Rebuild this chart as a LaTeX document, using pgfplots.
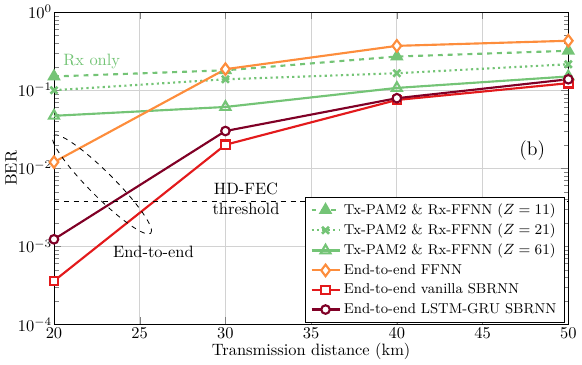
\documentclass[border=0pt]{standalone}
\usepackage{pgfplots}
\pgfplotsset{compat=1.18}
\definecolor{cgreen}{RGB}{116,196,118}
\definecolor{corange}{RGB}{253,141,60}
\definecolor{cred}{RGB}{227,26,28}
\definecolor{cdark}{RGB}{128,0,38}
\begin{document}
\begin{tikzpicture}
\begin{axis}[
  scale only axis,
  width=313pt, height=190pt,
  ymode=log,
  xmin=20, xmax=50, ymin=1e-4, ymax=1,
  xtick={20,25,30,35,40,45,50},
  ytick={1e-4,1e-3,1e-2,1e-1,1},
  grid=major,
  major grid style={gray!35, line width=0.5pt},
  yticklabel style={inner xsep=1pt},
  xticklabel style={inner ysep=2pt},
  xlabel={Transmission distance (km)},
  ylabel={BER},
  xlabel style={yshift=3pt},
  ylabel style={yshift=-4pt},
  legend cell align=left,
  legend style={at={(1,0)}, xshift=-2pt, yshift=1pt, anchor=south east, draw=black, fill=white, font=\fontsize{8.7}{10.4}\selectfont, row sep=0.3pt},
  every axis plot/.append style={line width=1.3pt},
  clip=false,
]
\addplot[cgreen, dashed, mark=triangle*, mark size=3.5pt, mark options={solid}] coordinates {(20,0.15) (30,0.18) (40,0.27) (50,0.32)};
\addlegendentry{Tx-PAM2 \& Rx-FFNN ($Z=11$)}
\addplot[cgreen, dotted, mark=x, mark size=3pt, mark options={solid, line width=1.6pt}] coordinates {(20,0.10) (30,0.138) (40,0.165) (50,0.215)};
\addlegendentry{Tx-PAM2 \& Rx-FFNN ($Z=21$)}
\addplot[cgreen, mark=triangle, mark size=3.5pt, mark options={solid, fill=white}] coordinates {(20,0.047) (30,0.061) (40,0.107) (50,0.15)};
\addlegendentry{Tx-PAM2 \& Rx-FFNN ($Z=61$)}
\addplot[corange, mark=diamond*, mark size=3.5pt, mark options={fill=white}] coordinates {(20,0.012) (30,0.186) (40,0.37) (50,0.43)};
\addlegendentry{End-to-end FFNN}
\addplot[cred, mark=square*, mark size=2.6pt, mark options={fill=white}] coordinates {(20,3.6e-4) (30,0.020) (40,0.075) (50,0.123)};
\addlegendentry{End-to-end vanilla SBRNN}
\addplot[cdark, mark=*, mark size=2.6pt, mark options={fill=white}] coordinates {(20,1.23e-3) (30,0.030) (40,0.079) (50,0.138)};
\addlegendentry{End-to-end LSTM-GRU SBRNN}
\addplot[black, dashed, line width=0.5pt, forget plot] coordinates {(20,3.8e-3) (50,3.8e-3)};
\node[above] at (axis cs:31.2,3.8e-3) {HD-FEC};
\node[below, yshift=2pt] at (axis cs:31.2,3.8e-3) {threshold};
\node[cgreen] at (axis cs:22.2,0.23) {Rx only};
\node at (axis cs:47.9,0.017) {\large (b)};
\node at (axis cs:25.8,8.5e-4) {End-to-end};
\draw[black, dashed, line width=0.5pt] (axis cs:22.8,6.2e-3) ellipse[x radius=42pt, y radius=7.5pt, rotate=-45];
\end{axis}
\end{tikzpicture}
\end{document}
